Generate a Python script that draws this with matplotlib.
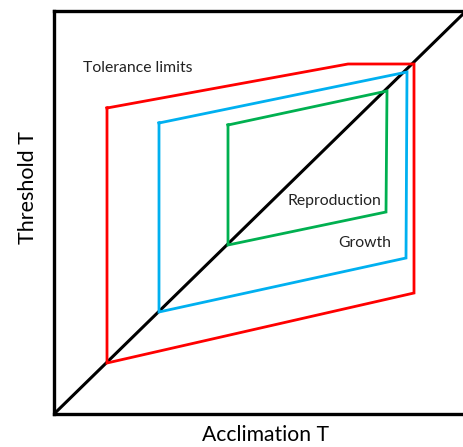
import matplotlib.pyplot as plt

plt.rcParams['font.family'] = ['Lato', 'DejaVu Sans']

# outline corners (acclimation, threshold), arbitrary units
tol_x = [53, 294, 360, 360, 53, 53]
tol_y = [306, 350, 350, 121, 51, 306]
growth_x = [105, 353, 352, 105, 105]
growth_y = [291, 342, 156, 102, 291]
repro_x = [174, 333, 332, 174, 174]
repro_y = [289, 323, 202, 169, 289]
diag_x = [0, 430]
diag_y = [0, 420.5]

labels = ['Tolerance limits', 'Reproduction', 'Growth']
label_pos = [(28.7, 346), (233.3, 213), (284.3, 171)]

fig = plt.figure(figsize=(4.63, 4.47), dpi=100)
ax = fig.add_axes([54 / 463, 33 / 447, 424 / 463, 403 / 447])

ax.plot(diag_x, diag_y, color='black', lw=2.2)
ax.plot(tol_x, tol_y, color='#FF0000', lw=2, solid_joinstyle='miter')
ax.plot(growth_x, growth_y, color='#00B0F0', lw=2, solid_joinstyle='miter')
ax.plot(repro_x, repro_y, color='#00B050', lw=2, solid_joinstyle='miter')

for txt, (x, y) in zip(labels, label_pos):
    ax.text(x, y, txt, fontsize=11.3, ha='left', va='center', color='#222222')

ax.set_xlim(0, 424)
ax.set_ylim(0, 403)
ax.set_xticks([])
ax.set_yticks([])
for s in ['left', 'bottom', 'top']:
    ax.spines[s].set_linewidth(2.4)
ax.spines['right'].set_visible(False)

fig.text(266 / 463, 1 - 435 / 447, 'Acclimation T', fontsize=15.2, ha='center', va='center')
fig.text(28 / 463, 1 - 188 / 447, 'Threshold T', fontsize=15.5, ha='center', va='center', rotation=90)

fig.savefig('out.png', dpi=100)
